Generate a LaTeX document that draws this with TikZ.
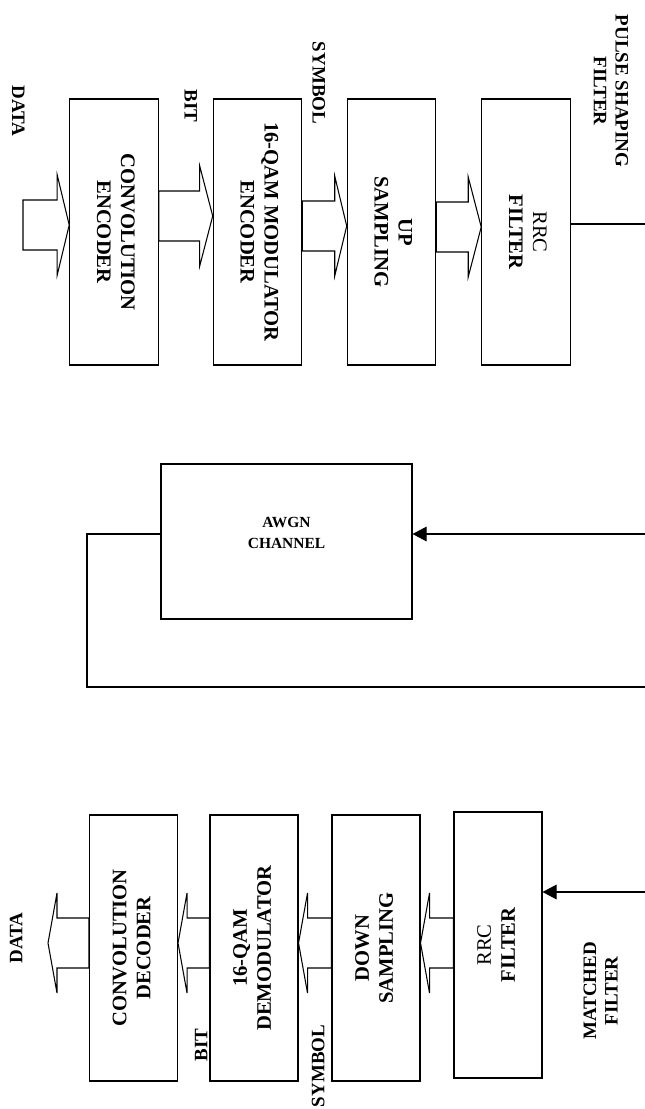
\documentclass[tikz,border=0pt]{standalone}
\usepackage{fontspec}
\setmainfont{Liberation Serif}
\usetikzlibrary{arrows.meta,calc}

\newcommand{\boxfont}{\fontsize{17.6}{20.5}\selectfont\bfseries}
\newcommand{\lblfont}{\fontsize{16.2}{18.5}\selectfont\bfseries}
% text turned to read downwards (transmitter) or upwards (receiver)
\newcommand{\rotdn}[1]{\rotatebox{-90}{\begin{tabular}{@{}c@{}}#1\end{tabular}}}
\newcommand{\rotup}[1]{\rotatebox{90}{\begin{tabular}{@{}c@{}}#1\end{tabular}}}
% hollow block arrow: tail, tip, head length
\newcommand{\blkarrow}[3]{%
  \draw[blockarr] let \p1=(#1), \p2=(#2) in
    ($(\x1,\y2)+(0,-25)$) -- ($(\p2)+({-(#3)},-25)$) -- ++(0,-25) -- (\p2)
    -- ($(\p2)+({-(#3)},50)$) -- ++(0,-25) -- ($(\x1,\y2)+(0,25)$) -- cycle;}

\tikzset{
  blk/.style={draw, line width=0.9pt, inner sep=0pt, font=\boxfont,
    minimum width=2.655cm, minimum height=7.98cm},
  lbl/.style={inner sep=0pt, font=\lblfont},
  wire/.style={line width=0.9pt},
  sig/.style={wire, -{Triangle[length=12pt,width=12.5pt]}},
  blockarr/.style={line width=0.9pt, line join=miter}
}

\begin{document}
\begin{tikzpicture}[x=0.03cm, y=-0.03cm]
  \useasboundingbox (0,0) rectangle (645,1109);

  % transmitter
  \node[blk] (enc) at (114,232) {\rotdn{CONVOLUTION\\ENCODER}};
  \node[blk] (mod) at (257.5,232) {\rotdn{16-QAM MODULATOR\\ENCODER}};
  \node[blk] (ups) at (391.5,232) {\rotdn{UP\\SAMPLING}};
  \node[blk] (rrc) at (526,232) {\rotdn{\mdseries RRC\\FILTER}};
  \node[lbl] (datatx) at (16.5,111) {\rotdn{DATA}};
  \node[lbl] (bittx) at (189,106) {\rotdn{BIT}};
  \node[lbl] (symtx) at (317,83) {\rotdn{SYMBOL}};
  \node[lbl] (pulse) at (609,91) {\rotdn{PULSE SHAPING\\FILTER}};
  \coordinate (datain) at (23,225);
  \coordinate (txout) at (645,224);
  \blkarrow{datain}{$(enc.west)+(0,-7)$}{12}
  \blkarrow{enc.east}{$(mod.west)+(0,-16)$}{13}
  \blkarrow{mod.east}{$(ups.west)+(0,-6)$}{12}
  \blkarrow{ups.east}{$(rrc.west)+(0,-5)$}{13}
  \draw[wire] (txout -| rrc.east) -- (txout);

  % channel
  \node[draw, line width=0.9pt, minimum width=7.53cm, minimum height=4.65cm]
    (awgn) at (286.5,541.5) {};
  \node[align=center, font=\fontsize{13.2}{18}\selectfont\bfseries]
    (awgntxt) at (286.5,532.5) {AWGN\\CHANNEL};
  \coordinate (chin) at (645,534);
  \coordinate (loopcorner) at (87,687);
  \coordinate (loopend) at (645,687);
  \draw[sig] (chin) -- (chin -| awgn.east);
  \draw[wire] (chin -| awgn.west) -| (loopcorner) -- (loopend);

  % receiver
  \node[blk, minimum width=2.64cm] (dec) at (133.5,948) {\rotup{CONVOLUTION\\DECODER}};
  \node[blk, minimum width=2.64cm] (dem) at (254,948) {\rotup{16-QAM\\DEMODULATOR}};
  \node[blk, minimum width=2.64cm] (dwn) at (376,948) {\rotup{DOWN\\SAMPLING}};
  \node[blk, minimum width=2.64cm] (mrrc) at (498,945) {\rotup{\mdseries RRC\\FILTER}};
  \node[lbl] (datarx) at (18,938) {\rotup{DATA}};
  \node[lbl] (bitrx) at (203,1045) {\rotup{BIT}};
  \node[lbl] (symrx) at (320,1066) {\rotup{SYMBOL}};
  \node[lbl] (matched) at (602.5,991) {\rotup{MATCHED\\FILTER}};
  \coordinate (rxin) at (645,892);
  \coordinate (dataout) at (48,943);
  \draw[sig] (rxin) -- (rxin -| mrrc.east);
  \blkarrow{mrrc.west}{$(dwn.east)+(0,-5)$}{-9}
  \blkarrow{dwn.west}{$(dem.east)+(0,-5)$}{-9}
  \blkarrow{dem.west}{$(dec.east)+(0,-5)$}{-9}
  \blkarrow{dec.west}{dataout}{-9}
\end{tikzpicture}
\end{document}
